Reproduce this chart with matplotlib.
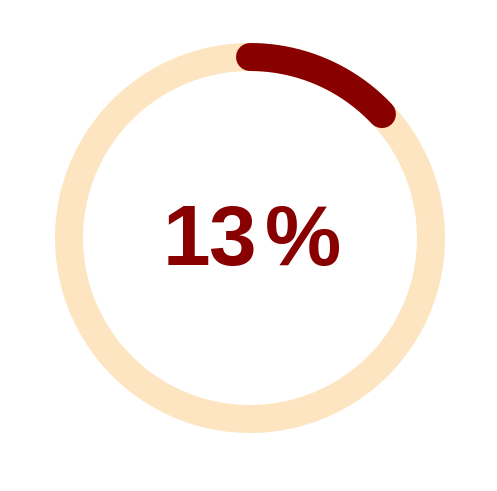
import numpy as np
import matplotlib
matplotlib.use("Agg")
import matplotlib.pyplot as plt
from matplotlib.patches import Wedge
from matplotlib.textpath import TextPath
from matplotlib.font_manager import FontProperties

value = [13]
total = [100]
label_chars = ["1", "3", "%"]

W, H = 497, 491
DPI = 100
fig = plt.figure(figsize=(W / DPI, H / DPI), dpi=DPI)
ax = fig.add_axes([0, 0, 1, 1])
ax.set_xlim(0, W)
ax.set_ylim(H, 0)
ax.axis("off")

cx, cy = 250, 238
r_out, width = 195, 28
bg_color = "#FDE5C2"
fg_color = "#890000"

ax.add_patch(Wedge((cx, cy), r_out, 0, 360, width=width, facecolor=bg_color, edgecolor="none"))

frac = value[0] / total[0]
theta = np.linspace(0, 2 * np.pi * frac, 200)
rc = r_out - width / 2
xs = cx + rc * np.sin(theta)
ys = cy - rc * np.cos(theta)
ax.plot(xs, ys, color=fg_color, linewidth=width * 72 / DPI, solid_capstyle="round")

# text layout: ink left edges and baseline (pixels)
fp = FontProperties(family="Liberation Sans", weight="bold")
digit_h = 59.0
baseline = 265.0
lefts = [168, 210, 267]
ref = TextPath((0, 0), "1", size=100, prop=fp).get_extents()
px_size = 100 * digit_h / ref.height
fs = px_size * 72 / DPI
for ch, left in zip(label_chars, lefts):
    ext = TextPath((0, 0), ch, size=px_size, prop=fp).get_extents()
    ax.text(left - ext.x0, baseline, ch, ha="left", va="baseline", fontsize=fs,
            fontproperties=fp, color=fg_color)

fig.savefig("out.png", dpi=DPI)
